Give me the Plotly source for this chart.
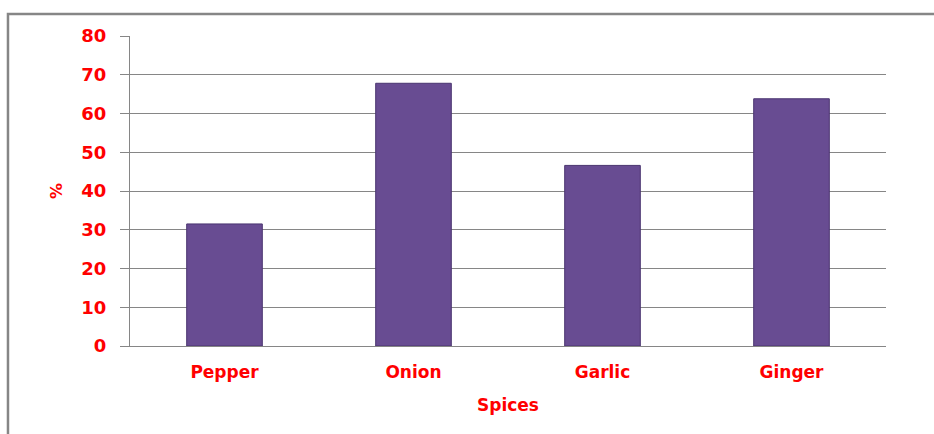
import plotly.graph_objects as go

categories = ["Pepper", "Onion", "Garlic", "Ginger"]
values = [31.5, 67.8, 46.6, 63.8]
y_ticks = [0, 10, 20, 30, 40, 50, 60, 70, 80]

red = "#ff0000"
grid = "#868686"
font_family = "DejaVu Sans"

fig = go.Figure()
fig.add_trace(go.Bar(
    x=categories, y=values, width=0.4,
    marker=dict(color="#684c92", line=dict(color="#4a3570", width=1)),
))

fig.update_layout(
    width=934, height=434,
    margin=dict(l=130, r=48, t=36, b=88),
    paper_bgcolor="white", plot_bgcolor="white",
    showlegend=False,
    xaxis=dict(
        showgrid=False, showline=True, linecolor=grid, linewidth=1,
        ticks="", ticklabelstandoff=11,
        tickfont=dict(family=font_family, size=17, color=red, weight="bold"),
        title=dict(text="Spices", font=dict(family=font_family, size=17, color=red, weight="bold"), standoff=17),
    ),
    yaxis=dict(
        range=[0, 80], tickvals=y_ticks,
        showgrid=True, gridcolor=grid, gridwidth=1,
        showline=True, linecolor=grid, linewidth=1,
        ticks="outside", ticklen=9, tickcolor=grid,
        ticklabelstandoff=10,
        tickfont=dict(family=font_family, size=18, color=red, weight="bold"),
        title=dict(text="%", font=dict(family=font_family, size=16, color=red, weight="bold"), standoff=14),
        zeroline=False,
    ),
    shapes=[dict(type="rect", xref="paper", yref="paper",
                 x0=-0.1614, x1=1.08, y0=-0.31, y1=1.071,
                 line=dict(color=grid, width=2.5), layer="below")],
)

fig.write_html("out.html")
